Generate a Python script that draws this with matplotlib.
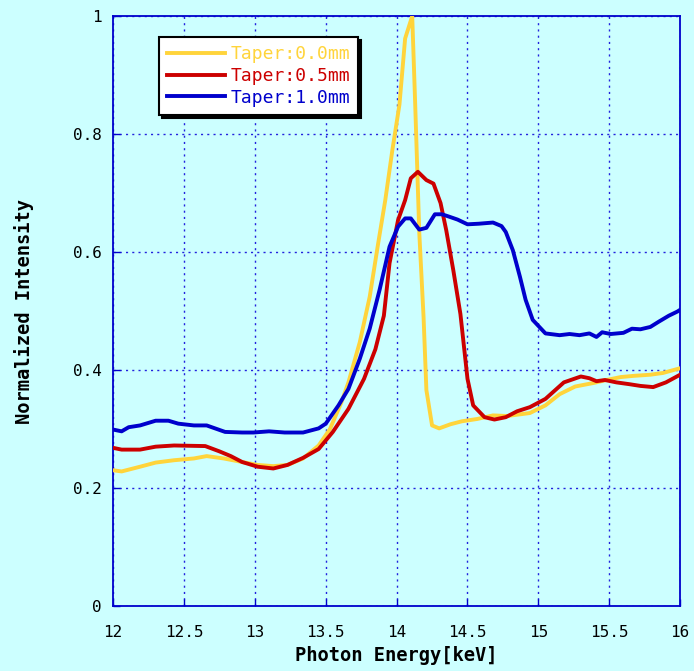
import matplotlib
matplotlib.use('Agg')
import matplotlib.pyplot as plt

x_yellow = [12.00, 12.06, 12.19, 12.30, 12.43, 12.57, 12.66, 12.78, 12.91, 13.02, 13.13,
            13.23, 13.34, 13.45, 13.53, 13.61, 13.66, 13.74, 13.81, 13.87, 13.92, 13.97,
            14.02, 14.06, 14.11, 14.13, 14.16, 14.19, 14.21, 14.25, 14.30, 14.38, 14.46,
            14.57, 14.68, 14.78, 14.94, 15.05, 15.15, 15.26, 15.39, 15.48, 15.58, 15.67,
            15.79, 15.88, 16.00]
y_yellow = [0.230, 0.228, 0.236, 0.243, 0.247, 0.250, 0.254, 0.250, 0.244, 0.239, 0.237,
            0.239, 0.250, 0.272, 0.300, 0.345, 0.379, 0.447, 0.524, 0.615, 0.688, 0.773,
            0.850, 0.962, 1.000, 0.858, 0.632, 0.490, 0.366, 0.306, 0.301, 0.308, 0.313,
            0.317, 0.323, 0.322, 0.327, 0.340, 0.359, 0.372, 0.378, 0.383, 0.388, 0.390,
            0.392, 0.395, 0.403]

x_red = [12.00, 12.06, 12.19, 12.30, 12.43, 12.65, 12.75, 12.83, 12.91, 13.02, 13.13,
         13.23, 13.34, 13.45, 13.55, 13.66, 13.77, 13.85, 13.91, 13.95, 14.01, 14.06,
         14.10, 14.15, 14.21, 14.26, 14.31, 14.35, 14.40, 14.45, 14.50, 14.54, 14.62,
         14.69, 14.77, 14.85, 14.94, 15.05, 15.18, 15.30, 15.36, 15.41, 15.47, 15.55,
         15.64, 15.72, 15.81, 15.90, 16.00]
y_red = [0.268, 0.265, 0.265, 0.270, 0.272, 0.271, 0.262, 0.254, 0.244, 0.236, 0.233,
         0.239, 0.251, 0.266, 0.295, 0.334, 0.385, 0.435, 0.492, 0.581, 0.654, 0.688,
         0.725, 0.736, 0.722, 0.716, 0.683, 0.637, 0.569, 0.495, 0.385, 0.340, 0.320,
         0.316, 0.320, 0.330, 0.337, 0.351, 0.379, 0.389, 0.386, 0.381, 0.383, 0.379,
         0.376, 0.373, 0.371, 0.379, 0.392]

x_blue = [12.00, 12.06, 12.11, 12.19, 12.30, 12.39, 12.46, 12.57, 12.66, 12.79, 12.91,
          12.99, 13.10, 13.21, 13.34, 13.45, 13.50, 13.59, 13.66, 13.74, 13.81, 13.88,
          13.95, 14.01, 14.06, 14.10, 14.16, 14.21, 14.27, 14.32, 14.37, 14.43, 14.50,
          14.58, 14.68, 14.74, 14.77, 14.82, 14.87, 14.91, 14.96, 15.05, 15.15, 15.22,
          15.29, 15.36, 15.41, 15.45, 15.51, 15.60, 15.66, 15.72, 15.79, 15.85, 15.92,
          15.98, 16.00]
y_blue = [0.299, 0.296, 0.303, 0.306, 0.314, 0.314, 0.309, 0.306, 0.306, 0.295, 0.294,
          0.294, 0.296, 0.294, 0.294, 0.301, 0.309, 0.340, 0.368, 0.419, 0.470, 0.536,
          0.609, 0.643, 0.657, 0.657, 0.638, 0.641, 0.664, 0.664, 0.660, 0.655, 0.647,
          0.648, 0.650, 0.644, 0.634, 0.603, 0.558, 0.519, 0.485, 0.462, 0.459, 0.461,
          0.459, 0.462, 0.456, 0.464, 0.461, 0.463, 0.470, 0.469, 0.473, 0.482, 0.492,
          0.499, 0.502]

series_labels = ['Taper:0.0mm', 'Taper:0.5mm', 'Taper:1.0mm']
series_colors = ['#FFD43B', '#CC0000', '#0000CC']

x_ticks = [12, 12.5, 13, 13.5, 14, 14.5, 15, 15.5, 16]
x_tick_labels = ['12', '12.5', '13', '13.5', '14', '14.5', '15', '15.5', '16']
y_ticks = [0, 0.2, 0.4, 0.6, 0.8, 1.0]
y_tick_labels = ['0', '0.2', '0.4', '0.6', '0.8', '1']

bg = '#CCFFFF'
edge = '#0000CC'
plt.rcParams['font.family'] = ['DejaVu Sans Mono']

fig = plt.figure(figsize=(6.94, 6.71), dpi=100, facecolor=bg)
ax = fig.add_axes([0.163, 0.097, 0.817, 0.879], facecolor=bg)

data = [(x_yellow, y_yellow), (x_red, y_red), (x_blue, y_blue)]
for (xs, ys), lab, col in zip(data, series_labels, series_colors):
    ax.plot(xs, ys, color=col, lw=2.8, label=lab, solid_joinstyle='round', zorder=3)

ax.set_xlim(12, 16)
ax.set_ylim(0, 1)
ax.set_xticks(x_ticks)
ax.set_xticklabels(x_tick_labels)
ax.set_yticks(y_ticks)
ax.set_yticklabels(y_tick_labels)
ax.tick_params(direction='in', length=5, width=1, color=edge, labelsize=11.5)
ax.tick_params(axis='x', pad=14)
ax.tick_params(axis='y', pad=8)
ax.grid(True, color='#2222DD', linestyle=(0, (1.5, 3)), lw=1.0)
for sp in ax.spines.values():
    sp.set_color(edge)
    sp.set_linewidth(1.3)

ax.set_xlabel('Photon Energy[keV]', fontsize=13.5, fontweight='bold', labelpad=4)
ax.set_ylabel('Normalized Intensity', fontsize=13.5, fontweight='bold', labelpad=28)

leg = ax.legend(loc='upper left', bbox_to_anchor=(0.081, 0.964), borderaxespad=0,
                fontsize=13, handlelength=3.2, handletextpad=0.3, labelspacing=0.2,
                borderpad=0.45, fancybox=False, framealpha=1, edgecolor='black',
                shadow={'color': 'black', 'alpha': 1})
leg.get_frame().set_linewidth(1.5)
for txt, col in zip(leg.get_texts(), series_colors):
    txt.set_color(col)

fig.savefig('out.png', dpi=100, facecolor=bg)
